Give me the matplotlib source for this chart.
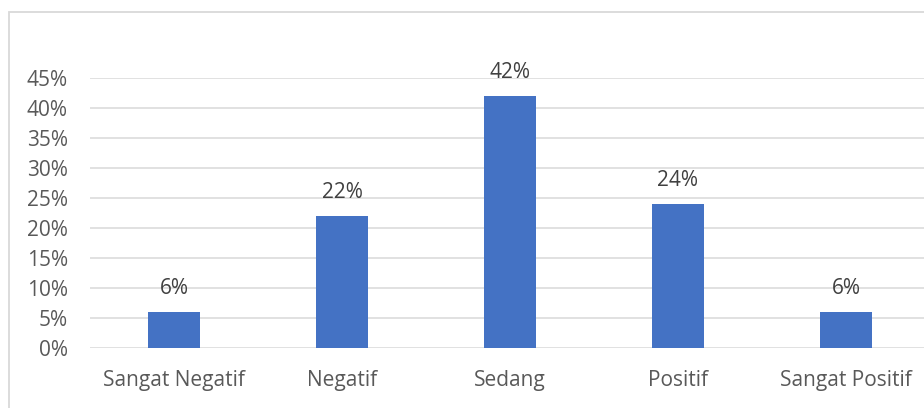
import matplotlib.pyplot as plt
from matplotlib.patches import Rectangle
from matplotlib.ticker import FuncFormatter

categories = ['Sangat Negatif', 'Negatif', 'Sedang', 'Positif', 'Sangat Positif']
values = [6, 22, 42, 24, 6]
labels = ['6%', '22%', '42%', '24%', '6%']

plt.rcParams['font.family'] = ['Open Sans', 'DejaVu Sans']

W, H = 924, 408
fig = plt.figure(figsize=(W / 100, H / 100), dpi=100)

# chart border (cut off at right and bottom like the original)
fig.patches.append(Rectangle((9 / W, -0.1), 1.0, 1 - 12 / H + 0.1, transform=fig.transFigure,
                             fill=False, edgecolor='#D9D9D9', linewidth=1.3))

ax = fig.add_axes([90 / W, 60 / H, 840 / W, 270 / H])
x = range(len(categories))
ax.bar(x, values, width=0.315, color='#4472C4', zorder=3)

ax.set_xlim(-0.5, 4.5)
ax.set_ylim(0, 45)
ax.set_yticks(range(0, 46, 5))
ax.yaxis.set_major_formatter(FuncFormatter(lambda v, p: f'{int(v)}%'))
ax.set_xticks(list(x))
ax.set_xticklabels(categories)
ax.grid(axis='y', color='#D9D9D9', linewidth=1.1, zorder=0)
ax.tick_params(length=0, labelsize=15, colors='#595959')
ax.tick_params(axis='y', pad=16)
ax.tick_params(axis='x', pad=16)
for s in ax.spines.values():
    s.set_visible(False)

for i, v in enumerate(values):
    ax.annotate(labels[i], (i, v), xytext=(0, 9), textcoords='offset points',
                ha='center', va='bottom', fontsize=15, color='#404040')

fig.savefig('out.png', dpi=100)
